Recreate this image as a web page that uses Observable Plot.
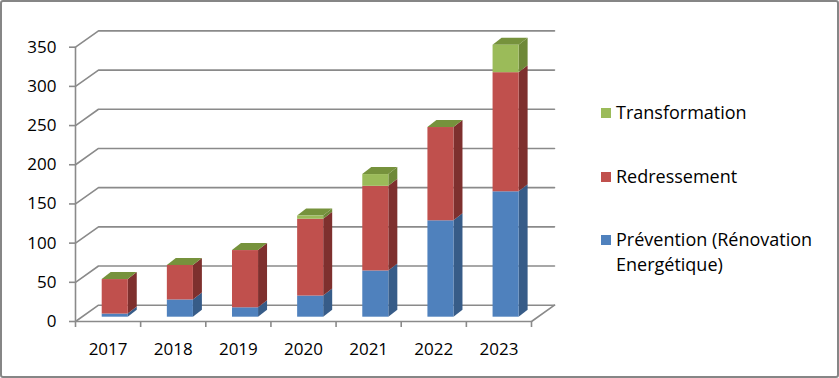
<!DOCTYPE html>
<html>
<head>
<meta charset="utf-8">
<script src="https://cdn.jsdelivr.net/npm/d3@7"></script>
<script src="https://cdn.jsdelivr.net/npm/@observablehq/plot@0.6"></script>
<style>
  html, body { margin: 0; padding: 0; background: #fff; }
  #wrap { position: relative; width: 839px; height: 378px; overflow: hidden; font-family: "Open Sans", sans-serif; }
  #border { position: absolute; left: 0; top: 0; width: 839px; height: 378px; box-sizing: border-box; border: 2px solid #868686; border-radius: 3px; pointer-events: none; }
  #chart { position: absolute; left: 0; top: 0; }
  #legend { position: absolute; left: 600px; top: 100px; font-size: 18px; color: #000; }
  .item { position: absolute; left: 0; white-space: nowrap; line-height: 25px; }
  .sw { position: absolute; left: 1px; width: 10px; height: 10px; }
  .lbl { position: absolute; left: 16px; }
</style>
</head>
<body>
<div id="wrap">
  <div id="chart"></div>
  <div id="legend"></div>
  <div id="border"></div>
</div>
<script>
// ---- data ----
const years = ["2017", "2018", "2019", "2020", "2021", "2022", "2023"];
const prevention = [4, 22, 12, 27, 59, 123, 160];
const redressement = [44, 44, 73, 98, 108, 119, 152];
const transformation = [0, 0, 0, 4, 15, 0, 35];
const seriesNames = ["Prévention (Rénovation Energétique)", "Redressement", "Transformation"];
const yTicks = [0, 50, 100, 150, 200, 250, 300, 350];

// ---- styling / layout constants ----
const frontColors = ["#4F81BD", "#C0504D", "#9BBB59"];
const sideColors = ["#375C88", "#7E302E", "#6E8838"];
const topColor = "#76923C";
const gridColor = "#8A8A8A";
const wallDx = 0.353, wallDy = 20.8;   // back-wall depth (x in categories, y in value units)
const barL = 0.41, barR = 0.81;        // front face of bars inside a category
const barDx = 0.138, barDy = 8.9;      // bar depth
const base = 5.5;                      // bars stand in the middle of the floor

// ---- build tables ----
const seriesVals = [prevention, redressement, transformation];
const segs = [];
years.forEach((yr, i) => {
  let acc = 0;
  seriesVals.forEach((vals, s) => {
    const lo = acc, hi = acc + vals[i];
    segs.push({i, s, lo: lo + base, hi: hi + base});
    acc = hi;
  });
});
const sidePts = [];
segs.forEach((d, k) => {
  sidePts.push({k, s: d.s, x: d.i + barR, y1: d.lo, y2: d.hi});
  sidePts.push({k, s: d.s, x: d.i + barR + barDx, y1: d.lo + barDy, y2: d.hi + barDy});
});
const topPts = [];
years.forEach((yr, i) => {
  const t = prevention[i] + redressement[i] + transformation[i] + base;
  topPts.push({i, x: i + barL, y1: t, y2: t});
  topPts.push({i, x: i + barL + barDx, y1: t, y2: t + barDy});
  topPts.push({i, x: i + barR, y1: t, y2: t + barDy});
  topPts.push({i, x: i + barR + barDx, y1: t + barDy, y2: t + barDy});
});
const n = years.length;
const gridPaths = [];
yTicks.forEach(v => {
  gridPaths.push({v, x: 0, y: v});
  gridPaths.push({v, x: wallDx, y: v + wallDy});
  gridPaths.push({v, x: n + wallDx, y: v + wallDy});
});
const floorRight = [{x: n, y: 0}, {x: n + wallDx, y: wallDy}];
const catCenters = years.map((y, i) => ({i, x: i + 0.5, label: y}));

const W = 580, H = 378;
const chart = Plot.plot({
  width: W, height: H,
  marginLeft: 75, marginRight: 26, marginTop: 30.4, marginBottom: 57,
  style: {fontFamily: "'Open Sans', sans-serif", fontSize: "17px", color: "#000", background: "transparent"},
  x: {type: "linear", domain: [0, n + wallDx], axis: null},
  y: {type: "linear", domain: [0, 350 + wallDy], axis: null},
  marks: [
    // back wall grid + left wall slants
    Plot.line(gridPaths, {x: "x", y: "y", z: "v", stroke: gridColor, strokeWidth: 1.6}),
    Plot.line(floorRight, {x: "x", y: "y", stroke: gridColor, strokeWidth: 1.6}),
    // bars
    Plot.areaY(sidePts, {x: "x", y1: "y1", y2: "y2", z: "k", fill: d => sideColors[d.s], curve: "linear"}),
    Plot.areaY(topPts, {x: "x", y1: "y1", y2: "y2", z: "i", fill: topColor, curve: "linear"}),
    Plot.rect(segs, {x1: d => d.i + barL, x2: d => d.i + barR, y1: "lo", y2: "hi", fill: d => frontColors[d.s]}),
    // front axes
    Plot.ruleX([0], {y1: 0, y2: 350, stroke: gridColor, strokeWidth: 1.6}),
    Plot.ruleY([0], {x1: 0, x2: n, stroke: gridColor, strokeWidth: 1.6}),
    Plot.axisY({ticks: yTicks, tickSize: 6, tickPadding: 13, stroke: gridColor, strokeWidth: 1.6, fill: "#000", fontSize: 17, label: null}),
    Plot.axisX({ticks: d3.range(n + 1), tickSize: 6, tickFormat: () => "", stroke: gridColor, strokeWidth: 1.6, label: null}),
    Plot.text(catCenters, {x: "x", y: 0, dy: 28, text: "label", fill: "#000", fontSize: 17, textAnchor: "middle", lineAnchor: "middle"})
  ]
});
document.getElementById("chart").appendChild(chart);

// ---- legend (HTML, right side) ----
const legend = document.getElementById("legend");
const legendItems = [
  {name: seriesNames[2], color: frontColors[2], top: 0, lines: ["Transformation"]},
  {name: seriesNames[1], color: frontColors[1], top: 64, lines: ["Redressement"]},
  {name: seriesNames[0], color: frontColors[0], top: 127, lines: ["Prévention (Rénovation", "Energétique)"]}
];
legendItems.forEach(it => {
  const div = document.createElement("div");
  div.className = "item";
  div.style.top = it.top + "px";
  const sw = document.createElement("span");
  sw.className = "sw";
  sw.style.background = it.color;
  sw.style.top = "8px";
  const lb = document.createElement("span");
  lb.className = "lbl";
  lb.innerHTML = it.lines.join("<br>");
  div.appendChild(sw);
  div.appendChild(lb);
  legend.appendChild(div);
});
</script>
</body>
</html>
